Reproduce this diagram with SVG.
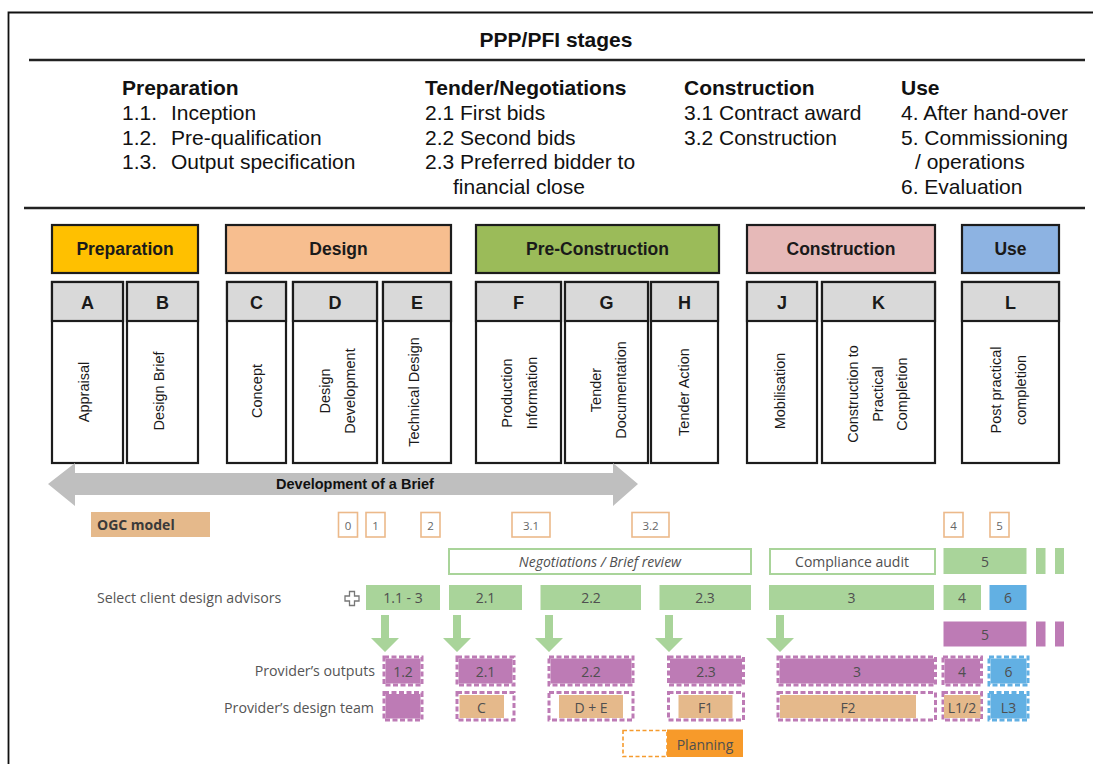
<svg xmlns="http://www.w3.org/2000/svg" width="1093" height="764" viewBox="0 0 1093 764">
  <defs>
    <style>
      .top { font-family: "Liberation Sans", Arial, sans-serif; font-size: 21px; fill: #111; }
      .topb { font-family: "Liberation Sans", Arial, sans-serif; font-size: 21px; font-weight: bold; fill: #111; }
      .rule { stroke: #222; stroke-width: 2.5; }
      .phase { stroke: #1c1c1c; stroke-width: 2.2; }
      .phaset { font-family: "Liberation Sans", Arial, sans-serif; font-size: 17.5px; font-weight: bold; fill: #1a1a1a; text-anchor: middle; }
      .step { fill: #fff; stroke: #1c1c1c; stroke-width: 2.2; }
      .stephead { fill: #d9d9d9; stroke: #1c1c1c; stroke-width: 2.2; }
      .letter { font-family: "Liberation Sans", Arial, sans-serif; font-size: 18px; font-weight: bold; fill: #1a1a1a; text-anchor: middle; }
      .vt { font-family: "Liberation Sans", Arial, sans-serif; font-size: 14.5px; fill: #1a1a1a; text-anchor: middle; dominant-baseline: central; }
      .lab { font-family: "Open Sans", "Liberation Sans", sans-serif; font-size: 14.2px; fill: #555; }
      .cell { font-family: "Open Sans", "Liberation Sans", sans-serif; font-size: 14px; fill: #4f4f4f; text-anchor: middle; dominant-baseline: central; }
      .ogc { fill: #fff; stroke: #ecb98a; stroke-width: 1.6; }
      .ogct { font-family: "Open Sans", "Liberation Sans", sans-serif; font-size: 11.5px; fill: #666; text-anchor: middle; dominant-baseline: central; }
      .green { fill: #a9d49a; }
      .gline { fill: #fff; stroke: #a9d49a; stroke-width: 2; }
      .purple { fill: #bd7bb5; }
      .blue { fill: #62b0e3; }
      .tan { fill: #e5b98b; }
      .under { fill: none; stroke: #fff; stroke-width: 3; }
      .dashp { fill: none; stroke: #bd7bb5; stroke-width: 3; stroke-dasharray: 5 2.5; }
      .dashb { fill: none; stroke: #62b0e3; stroke-width: 3; stroke-dasharray: 5 2.5; }
      .garrow { fill: #a9d49a; }
    </style>
  </defs>

  <rect x="0" y="0" width="1093" height="764" fill="#fff"/>

  <!-- outer frame -->
  <path d="M8.5 764 V12.5 H1093" fill="none" stroke="#111" stroke-width="1.8"/>

  <!-- PPP/PFI stage list -->
  <g id="ppp-stages">
    <text class="topb" x="556" y="47" text-anchor="middle">PPP/PFI stages</text>
    <line class="rule" x1="29" y1="60" x2="1085" y2="60"/>

    <text class="topb" x="122" y="95">Preparation</text>
    <text class="top" x="122" y="120">1.1.<tspan x="171">Inception</tspan></text>
    <text class="top" x="122" y="144.5">1.2.<tspan x="171">Pre-qualification</tspan></text>
    <text class="top" x="122" y="169">1.3.<tspan x="171">Output specification</tspan></text>

    <text class="topb" x="425" y="95">Tender/Negotiations</text>
    <text class="top" x="425" y="120">2.1 First bids</text>
    <text class="top" x="425" y="144.5">2.2 Second bids</text>
    <text class="top" x="425" y="169">2.3 Preferred bidder to</text>
    <text class="top" x="453" y="193.5">financial close</text>

    <text class="topb" x="684" y="95">Construction</text>
    <text class="top" x="684" y="120">3.1 Contract award</text>
    <text class="top" x="684" y="144.5">3.2 Construction</text>

    <text class="topb" x="901" y="95">Use</text>
    <text class="top" x="901" y="120">4. After hand-over</text>
    <text class="top" x="901" y="144.5">5. Commissioning</text>
    <text class="top" x="915" y="169">/ operations</text>
    <text class="top" x="901" y="193.5">6. Evaluation</text>

    <line class="rule" x1="24" y1="208" x2="1085" y2="208"/>
  </g>

  <!-- RIBA phases -->
  <g id="phase-preparation">
    <rect class="phase" x="52" y="225" width="146" height="48" fill="#ffc000"/>
    <text class="phaset" x="125" y="255">Preparation</text>
  </g>
  <g id="phase-design">
    <rect class="phase" x="226" y="225" width="225" height="48" fill="#f7be8f"/>
    <text class="phaset" x="338.5" y="255">Design</text>
  </g>
  <g id="phase-preconstruction">
    <rect class="phase" x="476" y="225" width="243" height="48" fill="#9bbb59"/>
    <text class="phaset" x="597.5" y="255">Pre-Construction</text>
  </g>
  <g id="phase-construction">
    <rect class="phase" x="747" y="225" width="188" height="48" fill="#e6b9b8"/>
    <text class="phaset" x="841" y="255">Construction</text>
  </g>
  <g id="phase-use">
    <rect class="phase" x="962" y="225" width="97" height="48" fill="#8db3e2"/>
    <text class="phaset" x="1010.5" y="255">Use</text>
  </g>

  <!-- RIBA work stages A-L -->
  <g id="stage-a">
    <rect class="step" x="52" y="282" width="71" height="181"/>
    <rect class="stephead" x="52" y="282" width="71" height="39"/>
    <text class="letter" x="87.5" y="309">A</text>
    <text class="vt" transform="translate(84 392) rotate(-90)">Appraisal</text>
  </g>
  <g id="stage-b">
    <rect class="step" x="127" y="282" width="71" height="181"/>
    <rect class="stephead" x="127" y="282" width="71" height="39"/>
    <text class="letter" x="162.5" y="309">B</text>
    <text class="vt" transform="translate(158.5 391) rotate(-90)">Design Brief</text>
  </g>
  <g id="stage-c">
    <rect class="step" x="227" y="282" width="59" height="181"/>
    <rect class="stephead" x="227" y="282" width="59" height="39"/>
    <text class="letter" x="256.5" y="309">C</text>
    <text class="vt" transform="translate(257 391) rotate(-90)">Concept</text>
  </g>
  <g id="stage-d">
    <rect class="step" x="293" y="282" width="84" height="181"/>
    <rect class="stephead" x="293" y="282" width="84" height="39"/>
    <text class="letter" x="335" y="309">D</text>
    <text class="vt" transform="translate(325 391) rotate(-90)">Design</text>
    <text class="vt" transform="translate(349.5 391) rotate(-90)">Development</text>
  </g>
  <g id="stage-e">
    <rect class="step" x="383" y="282" width="68" height="181"/>
    <rect class="stephead" x="383" y="282" width="68" height="39"/>
    <text class="letter" x="417" y="309">E</text>
    <text class="vt" transform="translate(414 392) rotate(-90)">Technical Design</text>
  </g>
  <g id="stage-f">
    <rect class="step" x="476" y="282" width="85" height="181"/>
    <rect class="stephead" x="476" y="282" width="85" height="39"/>
    <text class="letter" x="518.5" y="309">F</text>
    <text class="vt" transform="translate(507 393) rotate(-90)">Production</text>
    <text class="vt" transform="translate(532 393) rotate(-90)">Information</text>
  </g>
  <g id="stage-g">
    <rect class="step" x="565" y="282" width="83" height="181"/>
    <rect class="stephead" x="565" y="282" width="83" height="39"/>
    <text class="letter" x="606.5" y="309">G</text>
    <text class="vt" transform="translate(596 390) rotate(-90)">Tender</text>
    <text class="vt" transform="translate(621 390) rotate(-90)">Documentation</text>
  </g>
  <g id="stage-h">
    <rect class="step" x="651" y="282" width="67" height="181"/>
    <rect class="stephead" x="651" y="282" width="67" height="39"/>
    <text class="letter" x="684.5" y="309">H</text>
    <text class="vt" transform="translate(684 392) rotate(-90)">Tender Action</text>
  </g>
  <g id="stage-j">
    <rect class="step" x="747" y="282" width="70" height="181"/>
    <rect class="stephead" x="747" y="282" width="70" height="39"/>
    <text class="letter" x="782" y="309">J</text>
    <text class="vt" transform="translate(780 391) rotate(-90)">Mobilisation</text>
  </g>
  <g id="stage-k">
    <rect class="step" x="822" y="282" width="113" height="181"/>
    <rect class="stephead" x="822" y="282" width="113" height="39"/>
    <text class="letter" x="878.5" y="309">K</text>
    <text class="vt" transform="translate(853 394) rotate(-90)">Construction to</text>
    <text class="vt" transform="translate(877.5 394) rotate(-90)">Practical</text>
    <text class="vt" transform="translate(902 394) rotate(-90)">Completion</text>
  </g>
  <g id="stage-l">
    <rect class="step" x="962" y="282" width="97" height="181"/>
    <rect class="stephead" x="962" y="282" width="97" height="39"/>
    <text class="letter" x="1010.5" y="309">L</text>
    <text class="vt" transform="translate(996 390) rotate(-90)">Post practical</text>
    <text class="vt" transform="translate(1021 390) rotate(-90)">completion</text>
  </g>

  <!-- brief development span -->
  <g id="brief-arrow">
    <polygon points="48,484 75,463 75,473 613,473 613,463 638,484 613,506 613,495 75,495 75,506" fill="#bfbfbf"/>
    <text x="355" y="489" font-family="Liberation Sans, Arial, sans-serif" font-size="14.5" font-weight="bold" fill="#111" text-anchor="middle">Development of a Brief</text>
  </g>

  <!-- OGC gateway model -->
  <g id="ogc-model">
    <rect class="tan" x="91" y="512" width="119" height="25"/>
    <text x="97" y="529.5" font-family="Open Sans, Liberation Sans, sans-serif" font-size="14" font-weight="bold" fill="#3a3a3a">OGC model</text>
  </g>
  <g id="ogc-gates">
    <rect class="ogc" x="338.5" y="512.5" width="19" height="24.5"/><text class="ogct" x="348" y="525">0</text>
    <rect class="ogc" x="366" y="512.5" width="19" height="24.5"/><text class="ogct" x="375.5" y="525">1</text>
    <rect class="ogc" x="421" y="512.5" width="19" height="24.5"/><text class="ogct" x="430.5" y="525">2</text>
    <rect class="ogc" x="512" y="512.5" width="38" height="24.5"/><text class="ogct" x="531" y="525">3.1</text>
    <rect class="ogc" x="632" y="512.5" width="37" height="24.5"/><text class="ogct" x="650.5" y="525">3.2</text>
    <rect class="ogc" x="944" y="512.5" width="19" height="24.5"/><text class="ogct" x="953.5" y="525">4</text>
    <rect class="ogc" x="990" y="512.5" width="19" height="24.5"/><text class="ogct" x="999.5" y="525">5</text>
  </g>

  <!-- client-side activities -->
  <g id="client-review">
    <rect class="gline" x="449" y="549" width="302" height="25"/>
    <text class="cell" x="600" y="561.5" font-style="italic">Negotiations / Brief review</text>
    <rect class="gline" x="770" y="549" width="165" height="25"/>
    <text class="cell" x="852" y="561.5">Compliance audit</text>
    <rect class="green" x="943.5" y="548" width="83" height="26"/>
    <text class="cell" x="985" y="561.5">5</text>
    <rect class="green" x="1036" y="548" width="9.5" height="26"/>
    <rect class="green" x="1055" y="548" width="9" height="26"/>
  </g>

  <g id="client-advisors">
    <text class="lab" x="97" y="603">Select client design advisors</text>
    <path d="M349.5 591.5 h5 v4.5 h4.5 v5 h-4.5 v4.5 h-5 v-4.5 h-4.5 v-5 h4.5 z" fill="#fff" stroke="#777" stroke-width="1.3"/>
    <rect class="green" x="366" y="585" width="74" height="25"/><text class="cell" x="403" y="597.5">1.1 - 3</text>
    <rect class="green" x="449" y="585" width="73" height="25"/><text class="cell" x="485.5" y="597.5">2.1</text>
    <rect class="green" x="540.5" y="585" width="100.5" height="25"/><text class="cell" x="591" y="597.5">2.2</text>
    <rect class="green" x="659.5" y="585" width="91.5" height="25"/><text class="cell" x="705" y="597.5">2.3</text>
    <rect class="green" x="769" y="585" width="165" height="25"/><text class="cell" x="851.5" y="597.5">3</text>
    <rect class="green" x="943.5" y="585" width="37.5" height="25"/><text class="cell" x="962" y="597.5">4</text>
    <rect class="blue" x="989.5" y="585" width="37" height="25"/><text class="cell" x="1008" y="597.5">6</text>
  </g>

  <g id="operations">
    <rect class="purple" x="943.5" y="621.5" width="83" height="25"/>
    <text class="cell" x="985" y="634">5</text>
    <rect class="purple" x="1036" y="621.5" width="9.5" height="25"/>
    <rect class="purple" x="1055" y="621.5" width="9" height="25"/>
  </g>

  <!-- hand-over connectors -->
  <g id="connectors">
    <polygon class="garrow" points="381,615 389,615 389,638 399,638 385,652 371,638 381,638"/>
    <polygon class="garrow" points="453,615 461,615 461,638 471,638 457,652 443,638 453,638"/>
    <polygon class="garrow" points="545,615 553,615 553,638 563,638 549,652 535,638 545,638"/>
    <polygon class="garrow" points="665,615 673,615 673,638 683,638 669,652 655,638 665,638"/>
    <polygon class="garrow" points="776,615 784,615 784,638 794,638 780,652 766,638 776,638"/>
  </g>

  <!-- provider outputs -->
  <g id="provider-outputs">
    <text class="lab" x="375" y="676" text-anchor="end">Provider’s outputs</text>
    <rect class="purple" x="384" y="657" width="38" height="28"/>
    <rect class="under" x="384" y="657" width="38" height="28"/><rect class="dashp" x="384" y="657" width="38" height="28"/>
    <text class="cell" x="403" y="671">1.2</text>
    <rect class="purple" x="457" y="657" width="57" height="28"/>
    <rect class="under" x="457" y="657" width="57" height="28"/><rect class="dashp" x="457" y="657" width="57" height="28"/>
    <text class="cell" x="485.5" y="671">2.1</text>
    <rect class="purple" x="549" y="657" width="84" height="28"/>
    <rect class="under" x="549" y="657" width="84" height="28"/><rect class="dashp" x="549" y="657" width="84" height="28"/>
    <text class="cell" x="591" y="671">2.2</text>
    <rect class="purple" x="668.5" y="657" width="75" height="28"/>
    <rect class="under" x="668.5" y="657" width="75" height="28"/><rect class="dashp" x="668.5" y="657" width="75" height="28"/>
    <text class="cell" x="706" y="671">2.3</text>
    <rect class="purple" x="778" y="657" width="157.5" height="28"/>
    <rect class="under" x="778" y="657" width="157.5" height="28"/><rect class="dashp" x="778" y="657" width="157.5" height="28"/>
    <text class="cell" x="857" y="671">3</text>
    <rect class="purple" x="943" y="657" width="38.5" height="28"/>
    <rect class="under" x="943" y="657" width="38.5" height="28"/><rect class="dashp" x="943" y="657" width="38.5" height="28"/>
    <text class="cell" x="962" y="671">4</text>
    <rect class="blue" x="989" y="657" width="39" height="28"/>
    <rect class="under" x="989" y="657" width="39" height="28"/><rect class="dashb" x="989" y="657" width="39" height="28"/>
    <text class="cell" x="1008.5" y="671">6</text>
  </g>

  <!-- provider design team -->
  <g id="provider-design-team">
    <text class="lab" x="374" y="712.5" text-anchor="end">Provider’s design team</text>
    <rect class="purple" x="384" y="692.5" width="38" height="27.5"/>
    <rect class="under" x="384" y="692.5" width="38" height="27.5"/><rect class="dashp" x="384" y="692.5" width="38" height="27.5"/>

    <rect class="dashp" x="457" y="692.5" width="57" height="27.5"/>
    <rect class="tan" x="459.5" y="695" width="44.5" height="23"/>
    <text class="cell" x="481.5" y="707">C</text>

    <rect class="dashp" x="549" y="692.5" width="84" height="27.5"/>
    <rect class="tan" x="559" y="695" width="64" height="23"/>
    <text class="cell" x="591" y="707">D + E</text>

    <rect class="dashp" x="668.5" y="692.5" width="75" height="27.5"/>
    <rect class="tan" x="678.5" y="695" width="54" height="23"/>
    <text class="cell" x="705.5" y="707">F1</text>

    <rect class="dashp" x="778" y="692.5" width="157.5" height="27.5"/>
    <rect class="tan" x="780" y="695" width="136" height="23"/>
    <text class="cell" x="848" y="707">F2</text>

    <rect class="dashp" x="943" y="692.5" width="38.5" height="27.5"/>
    <rect class="tan" x="944" y="695" width="36.5" height="23"/>
    <text class="cell" x="962" y="707">L1/2</text>

    <rect class="blue" x="989" y="692.5" width="39" height="27.5"/>
    <rect class="under" x="989" y="692.5" width="39" height="27.5"/><rect class="dashb" x="989" y="692.5" width="39" height="27.5"/>
    <text class="cell" x="1008.5" y="707">L3</text>
  </g>

  <!-- planning -->
  <g id="planning">
    <rect x="623" y="730.5" width="44" height="26" fill="#fff" stroke="#f59b2e" stroke-width="1.6" stroke-dasharray="4 2.5"/>
    <rect x="667" y="729.5" width="76" height="27.5" fill="#f79a2a"/>
    <text class="cell" x="705" y="744" fill="#4a3a2a">Planning</text>
  </g>
</svg>
